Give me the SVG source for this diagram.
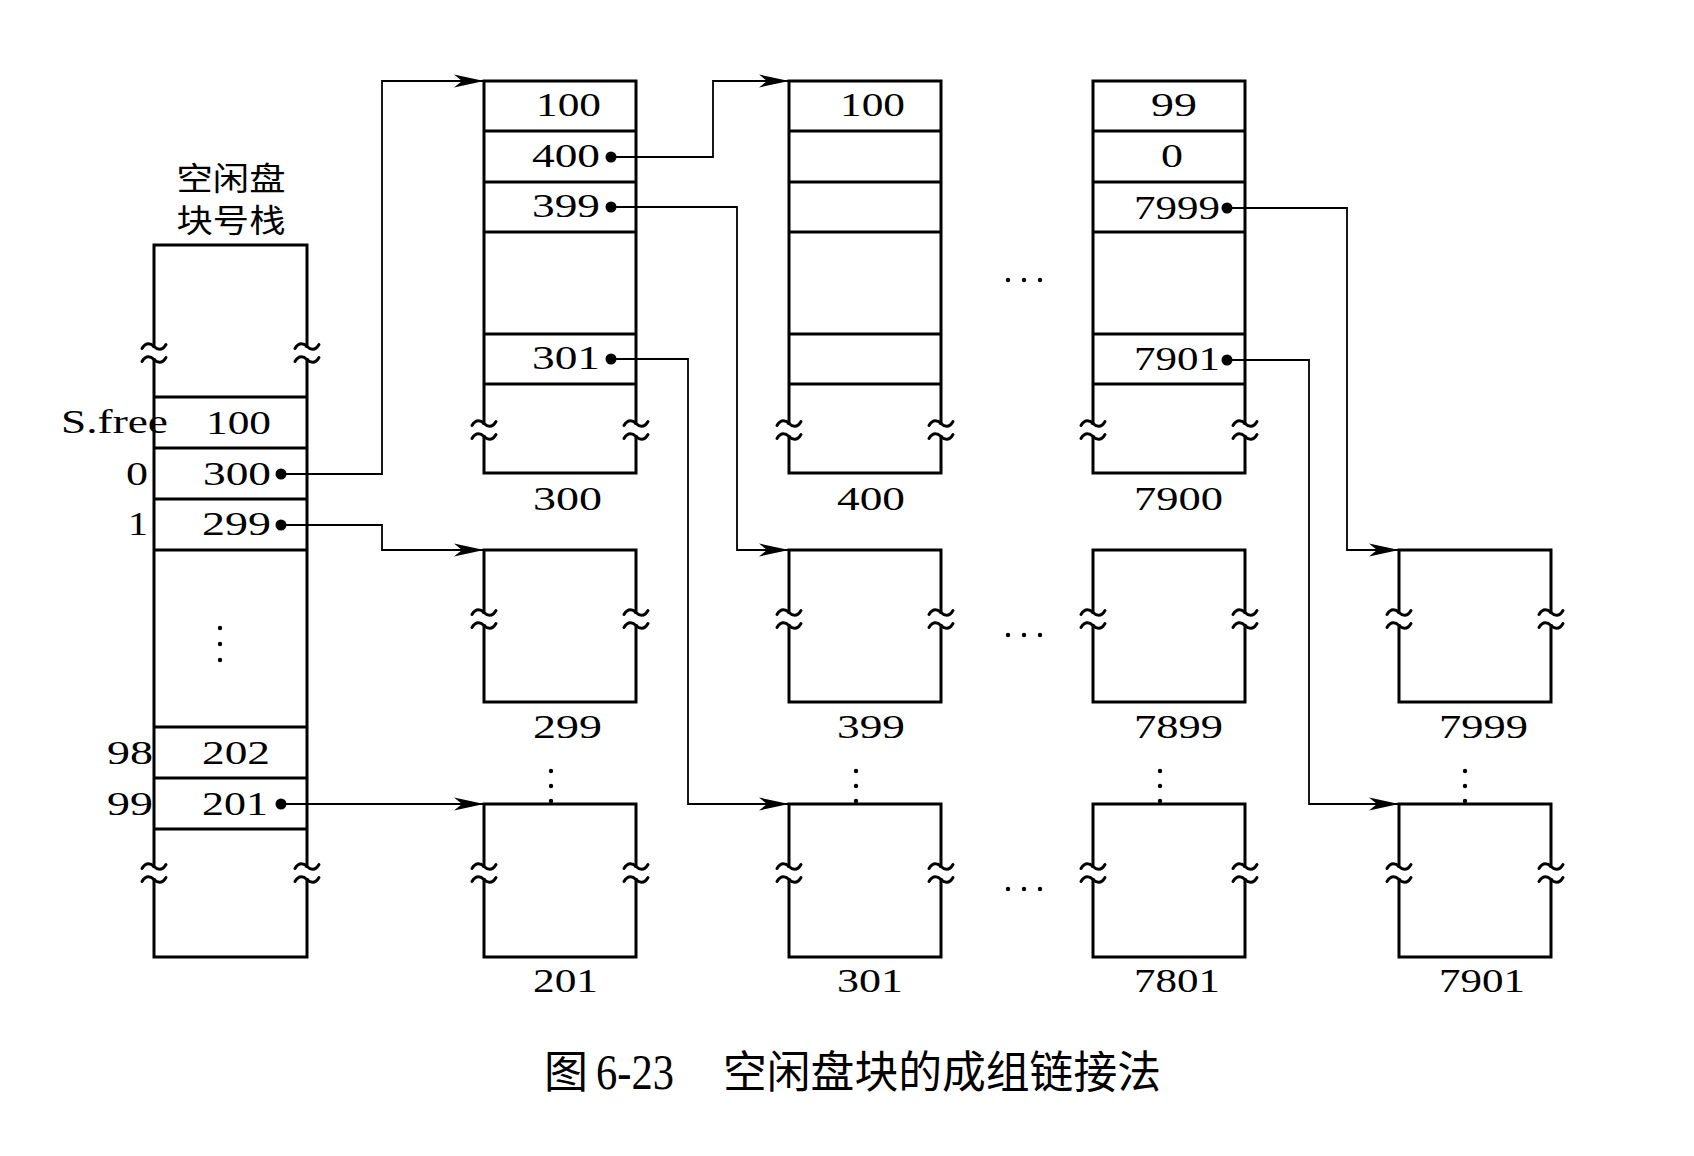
<svg xmlns="http://www.w3.org/2000/svg" xmlns:xlink="http://www.w3.org/1999/xlink" width="1694" height="1156" viewBox="0 0 1694 1156">
<style>
.box{fill:none;stroke:#000;stroke-width:3;stroke-linecap:square}
.brk{fill:none;stroke:#000;stroke-width:3;stroke-linecap:round}
.con{fill:none;stroke:#000;stroke-width:1.8}
.num{font-family:"Liberation Serif","DejaVu Serif",serif;font-size:33px;fill:#000}
.cap{font-family:"Liberation Serif","DejaVu Serif",serif;font-size:50px;fill:#000}
.cjk{font-family:"Noto Sans CJK SC",sans-serif;fill:#000}
.dot{fill:#000}
</style>
<defs>
<path id="brk" d="M-12,-4.5 C-8,-11.5 -3,-9.5 0,-6.5 C3,-3.5 8,-1.5 12,-8.5 M-12,8.5 C-8,1.5 -3,3.5 0,6.5 C3,9.5 8,11.5 12,4.5"/>
<marker id="arr" markerUnits="userSpaceOnUse" markerWidth="32" markerHeight="14" viewBox="-31 -7 32 14" refX="0" refY="0" orient="auto">
<path d="M0,0 L-30,-6.5 L-22,0 L-30,6.5 Z" fill="#000"/>
</marker>
</defs>
<rect width="1694" height="1156" fill="#fff"/>

<g id="stack">
<text class="cjk" x="176.5" y="190" font-size="32" textLength="109" lengthAdjust="spacingAndGlyphs">空闲盘</text>
<text class="cjk" x="176.5" y="232" font-size="32" textLength="109" lengthAdjust="spacingAndGlyphs">块号栈</text>
<path class="box" d="M154,245 H307 M154,245 V346.5 M154,359.5 V866.5 M154,879.5 V957 M307,245 V346.5 M307,359.5 V866.5 M307,879.5 V957 M154,957 H307 M154,397 H307 M154,448 H307 M154,499 H307 M154,550 H307 M154,727 H307 M154,778 H307 M154,829 H307"/>
<use href="#brk" xlink:href="#brk" class="brk" x="154" y="353"/>
<use href="#brk" xlink:href="#brk" class="brk" x="307" y="353"/>
<use href="#brk" xlink:href="#brk" class="brk" x="154" y="873"/>
<use href="#brk" xlink:href="#brk" class="brk" x="307" y="873"/>
<text class="num" x="61" y="433" textLength="107" lengthAdjust="spacingAndGlyphs">S.free</text>
<text class="num" x="206" y="434" textLength="65" lengthAdjust="spacingAndGlyphs">100</text>
<text class="num" x="126" y="485" textLength="22" lengthAdjust="spacingAndGlyphs">0</text>
<text class="num" x="203" y="485" textLength="68" lengthAdjust="spacingAndGlyphs">300</text>
<text class="num" x="128" y="535" textLength="20" lengthAdjust="spacingAndGlyphs">1</text>
<text class="num" x="202" y="535" textLength="69" lengthAdjust="spacingAndGlyphs">299</text>
<text class="num" x="107" y="764" textLength="46" lengthAdjust="spacingAndGlyphs">98</text>
<text class="num" x="202" y="764" textLength="68" lengthAdjust="spacingAndGlyphs">202</text>
<text class="num" x="107" y="815" textLength="46" lengthAdjust="spacingAndGlyphs">99</text>
<text class="num" x="202" y="815" textLength="66" lengthAdjust="spacingAndGlyphs">201</text>
<circle class="dot" cx="220" cy="628" r="2.2"/>
<circle class="dot" cx="220" cy="644" r="2.2"/>
<circle class="dot" cx="220" cy="660" r="2.2"/>
<circle class="dot" cx="281" cy="474" r="5.5"/>
<circle class="dot" cx="281" cy="525" r="5.5"/>
<circle class="dot" cx="281" cy="804" r="5.5"/>
</g>

<g id="block300">
<path class="box" d="M484,81 H636 M484,81 V423.5 M484,436.5 V473 M636,81 V423.5 M636,436.5 V473 M484,473 H636 M484,131 H636 M484,182 H636 M484,232 H636 M484,334 H636 M484,384 H636"/>
<use href="#brk" xlink:href="#brk" class="brk" x="484" y="430"/>
<use href="#brk" xlink:href="#brk" class="brk" x="636" y="430"/>
<text class="num" x="536" y="116" textLength="65" lengthAdjust="spacingAndGlyphs">100</text>
<text class="num" x="532" y="167" textLength="68" lengthAdjust="spacingAndGlyphs">400</text>
<text class="num" x="532" y="217" textLength="68" lengthAdjust="spacingAndGlyphs">399</text>
<text class="num" x="532" y="369" textLength="68" lengthAdjust="spacingAndGlyphs">301</text>
<circle class="dot" cx="611" cy="157" r="5.5"/>
<circle class="dot" cx="611" cy="207" r="5.5"/>
<circle class="dot" cx="611" cy="359" r="5.5"/>
<text class="num" x="533" y="510" textLength="69" lengthAdjust="spacingAndGlyphs">300</text>
</g>

<g id="block400">
<path class="box" d="M789,81 H941 M789,81 V423.5 M789,436.5 V473 M941,81 V423.5 M941,436.5 V473 M789,473 H941 M789,131 H941 M789,182 H941 M789,232 H941 M789,334 H941 M789,384 H941"/>
<use href="#brk" xlink:href="#brk" class="brk" x="789" y="430"/>
<use href="#brk" xlink:href="#brk" class="brk" x="941" y="430"/>
<text class="num" x="840" y="116" textLength="65" lengthAdjust="spacingAndGlyphs">100</text>
<text class="num" x="837" y="510" textLength="68" lengthAdjust="spacingAndGlyphs">400</text>
</g>

<g id="block7900">
<path class="box" d="M1093,81 H1245 M1093,81 V423.5 M1093,436.5 V473 M1245,81 V423.5 M1245,436.5 V473 M1093,473 H1245 M1093,131 H1245 M1093,182 H1245 M1093,232 H1245 M1093,334 H1245 M1093,384 H1245"/>
<use href="#brk" xlink:href="#brk" class="brk" x="1093" y="430"/>
<use href="#brk" xlink:href="#brk" class="brk" x="1245" y="430"/>
<text class="num" x="1151" y="116" textLength="46" lengthAdjust="spacingAndGlyphs">99</text>
<text class="num" x="1161" y="167" textLength="22" lengthAdjust="spacingAndGlyphs">0</text>
<text class="num" x="1134" y="219" textLength="86" lengthAdjust="spacingAndGlyphs">7999</text>
<text class="num" x="1134" y="370" textLength="86" lengthAdjust="spacingAndGlyphs">7901</text>
<circle class="dot" cx="1227" cy="208" r="5.5"/>
<circle class="dot" cx="1227" cy="360" r="5.5"/>
<text class="num" x="1134" y="510" textLength="89" lengthAdjust="spacingAndGlyphs">7900</text>
</g>

<g id="box299">
<path class="box" d="M484,550 H636 M484,550 V612.5 M484,625.5 V702 M636,550 V612.5 M636,625.5 V702 M484,702 H636"/>
<use href="#brk" xlink:href="#brk" class="brk" x="484" y="619"/>
<use href="#brk" xlink:href="#brk" class="brk" x="636" y="619"/>
<text class="num" x="533" y="738" textLength="69" lengthAdjust="spacingAndGlyphs">299</text>
</g>
<g id="box399">
<path class="box" d="M789,550 H941 M789,550 V612.5 M789,625.5 V702 M941,550 V612.5 M941,625.5 V702 M789,702 H941"/>
<use href="#brk" xlink:href="#brk" class="brk" x="789" y="619"/>
<use href="#brk" xlink:href="#brk" class="brk" x="941" y="619"/>
<text class="num" x="837" y="738" textLength="68" lengthAdjust="spacingAndGlyphs">399</text>
</g>
<g id="box7899">
<path class="box" d="M1093,550 H1245 M1093,550 V612.5 M1093,625.5 V702 M1245,550 V612.5 M1245,625.5 V702 M1093,702 H1245"/>
<use href="#brk" xlink:href="#brk" class="brk" x="1093" y="619"/>
<use href="#brk" xlink:href="#brk" class="brk" x="1245" y="619"/>
<text class="num" x="1134" y="738" textLength="89" lengthAdjust="spacingAndGlyphs">7899</text>
</g>
<g id="box7999">
<path class="box" d="M1399,550 H1551 M1399,550 V612.5 M1399,625.5 V702 M1551,550 V612.5 M1551,625.5 V702 M1399,702 H1551"/>
<use href="#brk" xlink:href="#brk" class="brk" x="1399" y="619"/>
<use href="#brk" xlink:href="#brk" class="brk" x="1551" y="619"/>
<text class="num" x="1439" y="738" textLength="89" lengthAdjust="spacingAndGlyphs">7999</text>
</g>

<g id="box201">
<path class="box" d="M484,804 H636 M484,804 V866.5 M484,879.5 V957 M636,804 V866.5 M636,879.5 V957 M484,957 H636"/>
<use href="#brk" xlink:href="#brk" class="brk" x="484" y="873"/>
<use href="#brk" xlink:href="#brk" class="brk" x="636" y="873"/>
<text class="num" x="533" y="992" textLength="65" lengthAdjust="spacingAndGlyphs">201</text>
</g>
<g id="box301">
<path class="box" d="M789,804 H941 M789,804 V866.5 M789,879.5 V957 M941,804 V866.5 M941,879.5 V957 M789,957 H941"/>
<use href="#brk" xlink:href="#brk" class="brk" x="789" y="873"/>
<use href="#brk" xlink:href="#brk" class="brk" x="941" y="873"/>
<text class="num" x="837" y="992" textLength="66" lengthAdjust="spacingAndGlyphs">301</text>
</g>
<g id="box7801">
<path class="box" d="M1093,804 H1245 M1093,804 V866.5 M1093,879.5 V957 M1245,804 V866.5 M1245,879.5 V957 M1093,957 H1245"/>
<use href="#brk" xlink:href="#brk" class="brk" x="1093" y="873"/>
<use href="#brk" xlink:href="#brk" class="brk" x="1245" y="873"/>
<text class="num" x="1134" y="992" textLength="86" lengthAdjust="spacingAndGlyphs">7801</text>
</g>
<g id="box7901">
<path class="box" d="M1399,804 H1551 M1399,804 V866.5 M1399,879.5 V957 M1551,804 V866.5 M1551,879.5 V957 M1399,957 H1551"/>
<use href="#brk" xlink:href="#brk" class="brk" x="1399" y="873"/>
<use href="#brk" xlink:href="#brk" class="brk" x="1551" y="873"/>
<text class="num" x="1439" y="992" textLength="86" lengthAdjust="spacingAndGlyphs">7901</text>
</g>

<g id="ellipses">
<circle class="dot" cx="1008" cy="280" r="2.2"/><circle class="dot" cx="1024" cy="280" r="2.2"/><circle class="dot" cx="1040" cy="280" r="2.2"/>
<circle class="dot" cx="1008" cy="635" r="2.2"/><circle class="dot" cx="1024" cy="635" r="2.2"/><circle class="dot" cx="1040" cy="635" r="2.2"/>
<circle class="dot" cx="1008" cy="889" r="2.2"/><circle class="dot" cx="1024" cy="889" r="2.2"/><circle class="dot" cx="1040" cy="889" r="2.2"/>
<circle class="dot" cx="551" cy="771" r="2.2"/><circle class="dot" cx="551" cy="786" r="2.2"/><circle class="dot" cx="551" cy="801" r="2.2"/>
<circle class="dot" cx="856" cy="771" r="2.2"/><circle class="dot" cx="856" cy="786" r="2.2"/><circle class="dot" cx="856" cy="801" r="2.2"/>
<circle class="dot" cx="1160" cy="771" r="2.2"/><circle class="dot" cx="1160" cy="786" r="2.2"/><circle class="dot" cx="1160" cy="801" r="2.2"/>
<circle class="dot" cx="1465" cy="771" r="2.2"/><circle class="dot" cx="1465" cy="786" r="2.2"/><circle class="dot" cx="1465" cy="801" r="2.2"/>
</g>

<g id="connectors">
<path class="con" marker-end="url(#arr)" d="M281,474 H382 V81 H484"/>
<path class="con" marker-end="url(#arr)" d="M281,525 H382 V550 H484"/>
<path class="con" marker-end="url(#arr)" d="M281,804 H484"/>
<path class="con" marker-end="url(#arr)" d="M611,157 H713 V81 H789"/>
<path class="con" marker-end="url(#arr)" d="M611,207 H737 V550 H789"/>
<path class="con" marker-end="url(#arr)" d="M611,359 H688 V804 H789"/>
<path class="con" marker-end="url(#arr)" d="M1227,208 H1347 V550 H1399"/>
<path class="con" marker-end="url(#arr)" d="M1227,360 H1309 V804 H1399"/>
</g>

<g id="caption">
<text class="cjk" x="544" y="1088" font-size="44">图</text>
<text class="cap" x="596" y="1089" textLength="78" lengthAdjust="spacingAndGlyphs">6-23</text>
<text class="cjk" x="723" y="1088" font-size="44" textLength="438" lengthAdjust="spacingAndGlyphs">空闲盘块的成组链接法</text>
</g>
</svg>
